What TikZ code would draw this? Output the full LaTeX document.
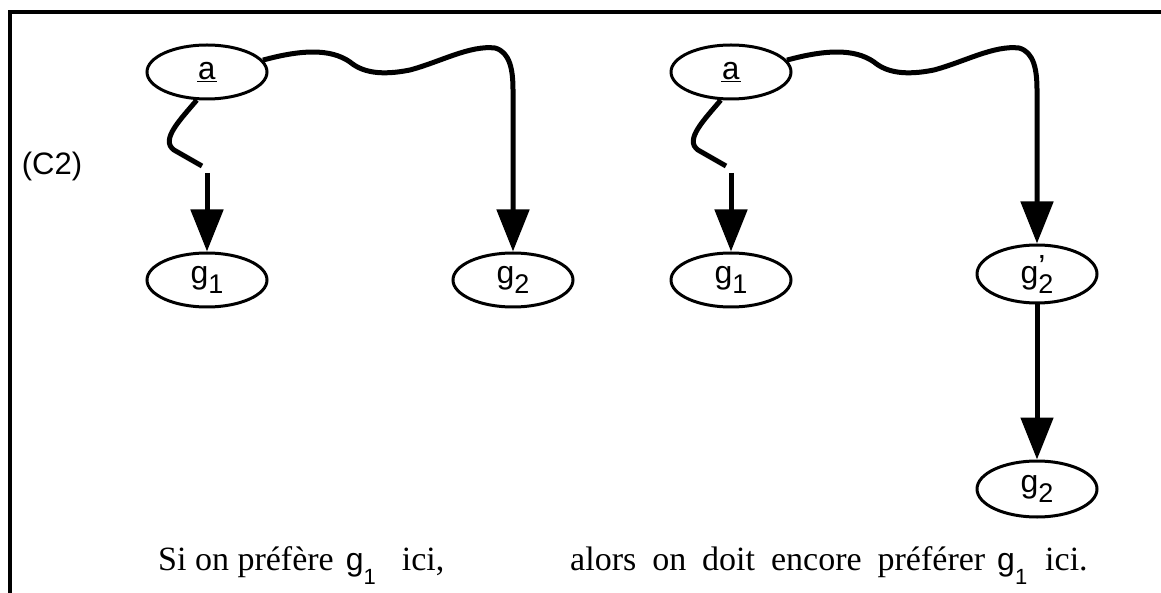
\documentclass[tikz,border=0pt]{standalone}
\usepackage{fontspec}
\setmainfont{Liberation Serif}
\setsansfont{Liberation Sans}
\setmonofont{Liberation Mono}
\usetikzlibrary{shapes.geometric,arrows.meta}

\tikzset{
  goal/.style={ellipse, draw, line width=3pt, minimum width=120pt, minimum height=54pt,
               inner sep=0pt, font=\sffamily\fontsize{32}{34}\selectfont},
  wire/.style={line width=5pt, line join=round},
  flow/.style={wire, -{Triangle[width=32pt,length=42pt]}},
  frame/.style={line width=4pt},
  caption/.style={anchor=base west, inner sep=0pt, font=\fontsize{34}{36}\selectfont},
}
\newcommand{\gsub}[1]{g\raisebox{-0.3em}{\fontsize{27}{27}\selectfont #1}}
\newcommand{\gprm}{g\rlap{\raisebox{0.2em}{\char"27}}\raisebox{-0.3em}{\fontsize{27}{27}\selectfont 2}}
\newcommand{\capg}{{\sffamily\fontsize{32}{32}\selectfont g\raisebox{-0.45em}{\fontsize{22}{22}\selectfont 1}}}

\begin{document}
\begin{tikzpicture}[x=1pt,y=-1pt]
  \useasboundingbox (0,0) rectangle (1161,593);
  \draw[frame] (10,593) -- (10,12) -- (1161,12);

  \node[font=\sffamily\fontsize{31}{33}\selectfont] (tag) at (52,166) {(C2)};

  % left case
  \node[goal, font=\ttfamily\fontsize{32}{34}\selectfont] (aL) at (207,72) {\underline{a}};
  \node[goal] (g1L) at (207,280) {\gsub{1}};
  \node[goal] (g2L) at (513,280) {\gsub{2}};
  \coordinate (cutL) at (202,166);
  \coordinate (stubL) at (207,173);

  \draw[wire] (aL.250) .. controls (180,120) and (160,140) .. (174,150) -- (cutL);
  \draw[flow] (stubL) -- (g1L);
  \draw[flow] (aL.12) .. controls (300,50) and (330,48) .. (350,62)
      .. controls (362,72) and (380,76) .. (410,70)
      .. controls (440,62) and (470,45) .. (495,48)
      .. controls (510,52) and (513,70) .. (513,90) -- (g2L);

  % right case
  \node[goal, font=\ttfamily\fontsize{32}{34}\selectfont] (aR) at (731,72) {\underline{a}};
  \node[goal] (g1R) at (731,280) {\gsub{1}};
  \node[goal, minimum height=58pt] (g2p) at (1037,274) {\gprm};
  \node[goal, minimum height=56pt] (g2R) at (1037,489) {\gsub{2}};
  \coordinate (cutR) at (726,166);
  \coordinate (stubR) at (731,173);

  \draw[wire] (aR.250) .. controls (704,120) and (684,140) .. (698,150) -- (cutR);
  \draw[flow] (stubR) -- (g1R);
  \draw[flow] (aR.12) .. controls (824,50) and (854,48) .. (874,62)
      .. controls (886,72) and (904,76) .. (934,70)
      .. controls (964,62) and (994,45) .. (1019,48)
      .. controls (1034,52) and (1037,70) .. (1037,90) -- (g2p);
  \draw[flow] (g2p) -- (g2R);

  % captions
  \node[caption] (capL) at (158,570)
    {Si on préfère\hspace{12pt}\capg\hspace{26pt}ici,};
  \node[caption] (capR) at (570,570)
    {\makebox[415pt][s]{alors on doit encore préférer}\hspace{12pt}\capg\hspace{18pt}ici.};
\end{tikzpicture}
\end{document}
